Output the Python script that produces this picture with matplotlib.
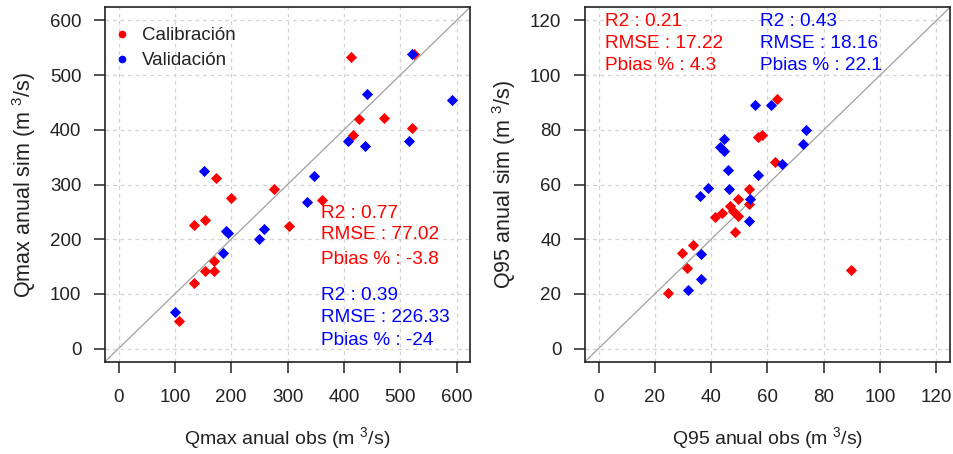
import matplotlib
matplotlib.use("Agg")
import matplotlib.pyplot as plt
from matplotlib.lines import Line2D

plt.rcParams['font.family'] = ['Liberation Sans', 'DejaVu Sans']
plt.rcParams['mathtext.fontset'] = 'custom'
plt.rcParams['mathtext.rm'] = 'Liberation Sans'
plt.rcParams['mathtext.it'] = 'Liberation Sans:italic'

RED = '#FF0000'
BLUE = '#0000FF'

# Qmax anual (m3/s): observado vs simulado
qmax_cal_obs = [413, 524, 427, 472, 521, 416, 173, 200, 276, 361, 134, 154, 302, 169, 154, 169, 134, 108]
qmax_cal_sim = [534, 538, 420, 421, 404, 391, 312, 276, 291, 271, 226, 235, 224, 161, 142, 142, 120, 50]
qmax_val_obs = [521, 441, 592, 407, 438, 515, 151, 347, 335, 190, 194, 259, 249, 185, 101]
qmax_val_sim = [539, 465, 454, 379, 371, 379, 324, 315, 268, 215, 211, 218, 200, 174, 66]

# Q95 anual (m3/s): observado vs simulado
q95_cal_obs = [63.3, 56.8, 58.0, 62.7, 53.3, 49.7, 46.8, 53.3, 47.6, 43.8, 41.4, 49.7, 48.5, 33.7, 29.8, 31.4, 24.6, 89.7]
q95_cal_sim = [91.4, 77.3, 78.2, 68.1, 58.3, 54.7, 52.2, 52.8, 50.4, 49.5, 48.0, 48.3, 42.5, 37.8, 34.9, 29.4, 20.4, 28.7]
q95_val_obs = [61.2, 55.4, 73.7, 72.6, 44.6, 43.2, 44.4, 65.1, 45.8, 56.6, 38.8, 36.1, 46.4, 53.9, 53.3, 36.3, 36.3, 31.6]
q95_val_sim = [88.9, 88.9, 80.1, 74.9, 76.7, 73.6, 72.4, 67.5, 65.3, 63.6, 58.7, 55.9, 58.3, 54.7, 46.5, 34.7, 25.6, 21.4]

qmax_ticks = [0, 100, 200, 300, 400, 500, 600]
q95_ticks = [0, 20, 40, 60, 80, 100, 120]

qmax_cal_stats = ['R2 : 0.77', 'RMSE : 77.02', 'Pbias % : -3.8']
qmax_val_stats = ['R2 : 0.39', 'RMSE : 226.33', 'Pbias % : -24']
q95_cal_stats = ['R2 : 0.21', 'RMSE : 17.22', 'Pbias % : 4.3']
q95_val_stats = ['R2 : 0.43', 'RMSE : 18.16', 'Pbias % : 22.1']


def panel(ax, cal_x, cal_y, val_x, val_y, ticks, xlabel, ylabel):
    pad = (ticks[-1] - ticks[0]) * 0.04
    lim = (ticks[0] - pad, ticks[-1] + pad)
    ax.set_xlim(lim)
    ax.set_ylim(lim)
    ax.set_xticks(ticks)
    ax.set_yticks(ticks)
    ax.grid(True, color='#D3D3D3', linestyle=(0, (3, 3)), linewidth=0.9)
    ax.set_axisbelow(True)
    ax.axline((0, 0), slope=1, color='#A0A0A0', linewidth=0.9, zorder=1.5)
    ax.plot(cal_x, cal_y, 'D', color=RED, ms=4.8, mew=0.6, zorder=3)
    ax.plot(val_x, val_y, 'D', color=BLUE, ms=4.8, mew=0.6, zorder=3)
    for s in ax.spines.values():
        s.set_linewidth(1.2)
        s.set_color('#222222')
    ax.tick_params(direction='out', length=8, width=1.1, labelsize=13.5,
                   color='#222222', labelcolor='#222222')
    ax.tick_params(axis='x', pad=11.5)
    ax.tick_params(axis='y', pad=9)
    ax.set_xlabel(xlabel, fontsize=14, color='#222222')
    ax.set_ylabel(ylabel, fontsize=15.5, color='#222222')
    ax.xaxis.set_label_coords(0.5, -0.215)
    ax.xaxis.label.set_va('center')
    ax.yaxis.set_label_coords(-0.222, 0.5)
    ax.yaxis.label.set_va('center')


fig = plt.figure(figsize=(9.54, 4.54), dpi=100)
ax1 = fig.add_axes([0.1101, 0.2033, 0.3826, 0.7806])
ax2 = fig.add_axes([0.6132, 0.2033, 0.3826, 0.7806])

panel(ax1, qmax_cal_obs, qmax_cal_sim, qmax_val_obs, qmax_val_sim, qmax_ticks,
      r'Qmax anual obs (m $^{3}$/s)', r'Qmax anual sim (m $^{3}$/s)')
panel(ax2, q95_cal_obs, q95_cal_sim, q95_val_obs, q95_val_sim, q95_ticks,
      r'Q95 anual obs (m $^{3}$/s)', r'Q95 anual sim (m $^{3}$/s)')

handles = [Line2D([], [], marker='o', ls='', color=RED, ms=4.5, label='Calibración'),
           Line2D([], [], marker='o', ls='', color=BLUE, ms=4.5, label='Validación')]
ax1.legend(handles=handles, loc='upper left', bbox_to_anchor=(0.0, 0.976),
           frameon=False, fontsize=13.5, handlelength=0.6, handletextpad=0.75,
           borderpad=0.6, borderaxespad=0, labelspacing=0.42,
           labelcolor='#222222')

# estadisticos
for y, s in zip([247, 208, 162], qmax_cal_stats):
    ax1.text(360, y, s, color=RED, fontsize=13.7, va='center', ha='left')
for y, s in zip([96.5, 56.5, 15.5], qmax_val_stats):
    ax1.text(360, y, s, color=BLUE, fontsize=13.7, va='center', ha='left')
for y, s in zip([119.6, 111.5, 103.5], q95_cal_stats):
    ax2.text(2.4, y, s, color=RED, fontsize=13.7, va='center', ha='left')
for y, s in zip([119.6, 111.5, 103.5], q95_val_stats):
    ax2.text(57.4, y, s, color=BLUE, fontsize=13.7, va='center', ha='left')

fig.savefig('out.png', dpi=100)
